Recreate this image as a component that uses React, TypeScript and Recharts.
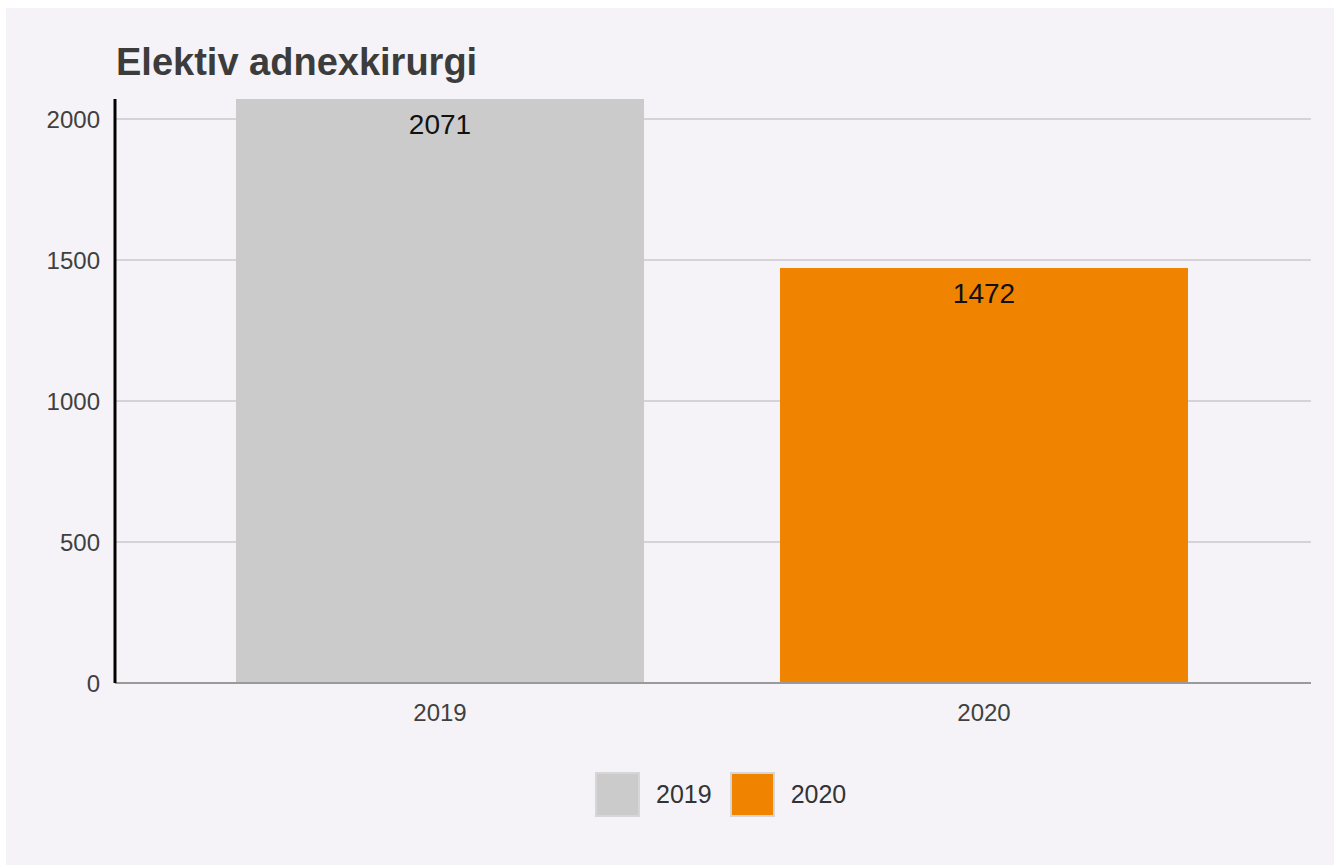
import { BarChart, Bar, XAxis, YAxis, CartesianGrid, Legend, LabelList, Cell } from "recharts";

const years = ["2019", "2020"];
const counts = [2071, 1472];
const barColors = ["#cbcbcb", "#f08300"];
const yTicks = [0, 500, 1000, 1500, 2000];
const gridValues = [500, 1000, 1500, 2000];

const data = years.map((year, i) => ({ year, antal: counts[i] }));

const font = "'Liberation Sans', Arial, sans-serif";

function LegendContent() {
  return (
    <div style={{ display: "flex", alignItems: "center", height: 45, paddingLeft: 589, fontFamily: font }}>
      {years.map((y, i) => (
        <div key={y} style={{ display: "flex", alignItems: "center", marginRight: 18, flexShrink: 0 }}>
          <span
            style={{
              display: "block",
              width: 45,
              height: 45,
              flexShrink: 0,
              boxSizing: "border-box",
              background: barColors[i],
              border: "2px solid #d6d6d6",
              marginRight: 16,
            }}
          />
          <span style={{ fontSize: 25, color: "#333" }}>{y}</span>
        </div>
      ))}
    </div>
  );
}

export default function App() {
  return (
    <div
      style={{
        position: "absolute",
        left: 6,
        top: 8,
        width: 1328,
        height: 857,
        background: "#f5f3f7",
      }}
    >
      <div
        style={{
          position: "absolute",
          left: 110,
          top: 35,
          fontFamily: font,
          fontWeight: "bold",
          fontSize: 38,
          lineHeight: "38px",
          color: "#3c3c3c",
        }}
      >
        Elektiv adnexkirurgi
      </div>
      <BarChart
        width={1328}
        height={857}
        data={data}
        margin={{ top: 91, right: 23, left: 0, bottom: 48 }}
        style={{ fontFamily: font }}
      >
        <CartesianGrid vertical={false} horizontalValues={gridValues} stroke="#d5d3d7" strokeWidth={2} />
        <XAxis
          dataKey="year"
          height={89}
          padding={{ left: 53, right: 55 }}
          tickLine={false}
          tickMargin={15}
          axisLine={{ stroke: "#9a9a9a", strokeWidth: 2 }}
          tick={{ fontSize: 24, fill: "#404040" }}
        />
        <YAxis
          width={109}
          domain={[0, "dataMax"]}
          ticks={yTicks}
          tickLine={false}
          tickMargin={9}
          axisLine={{ stroke: "#000", strokeWidth: 3 }}
          tick={{ fontSize: 24, fill: "#404040" }}
        />
        <Legend
          verticalAlign="bottom"
          content={<LegendContent />}
          wrapperStyle={{ left: 0, width: 1328, bottom: 48 }}
        />
        <Bar dataKey="antal" barSize={408} isAnimationActive={false}>
          {data.map((d, i) => (
            <Cell key={d.year} fill={barColors[i]} />
          ))}
          <LabelList dataKey="antal" position="insideTop" offset={15} fontSize={28} fill="#111" />
        </Bar>
      </BarChart>
    </div>
  );
}
